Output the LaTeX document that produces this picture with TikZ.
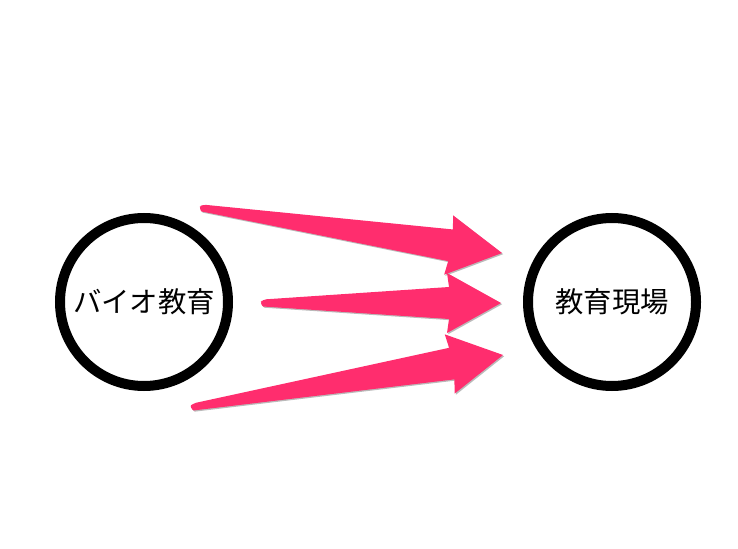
\documentclass[tikz,border=0pt]{standalone}
\usepackage{fontspec}
\newfontfamily\jpfont{Noto Sans CJK JP}
\usetikzlibrary{calc,shadows}
\definecolor{arrowpink}{RGB}{255,45,110}
\tikzset{
  ring/.style={circle, draw=black, line width=10bp, minimum size=168bp, inner sep=0pt, fill=white, font=\jpfont\fontsize{28.5}{32}\selectfont},
  fatarrow/.style={fill=arrowpink, draw=none,
    drop shadow={shadow xshift=1.2bp, shadow yshift=-1.2bp, opacity=0.45, fill=black!60}}
}
% #1 tail, #2 tip
\newcommand{\fatarr}[2]{%
  \path[fatarrow]
    ($(#1)!3.5bp!90:(#2)$) --
    ($($(#2)!52bp!(#1)$)!16bp!90:(#2)$) --
    ($($(#2)!54bp!(#1)$)!30bp!90:(#2)$) --
    (#2) --
    ($($(#2)!54bp!(#1)$)!30bp!-90:(#2)$) --
    ($($(#2)!52bp!(#1)$)!16bp!-90:(#2)$) --
    ($(#1)!3.5bp!-90:(#2)$) [rounded corners=3.5bp] --
    ($(#1)!-3.5bp!(#2)$) --
    cycle;}
\begin{document}
\begin{tikzpicture}[x=1bp,y=-1bp]
\useasboundingbox (0,0) rectangle (738,549);
\node[ring] (bio) at (144,302) {バイオ教育};
\node[ring] (site) at (612,302) {教育現場};
\coordinate (t1) at (202,208);
\coordinate (p1) at (502,253);
\coordinate (t2) at (263,303);
\coordinate (p2) at (501,303);
\coordinate (t3) at (193,407);
\coordinate (p3) at (503,355);
\fatarr{t1}{p1}
\fatarr{t2}{p2}
\fatarr{t3}{p3}
\end{tikzpicture}
\end{document}
